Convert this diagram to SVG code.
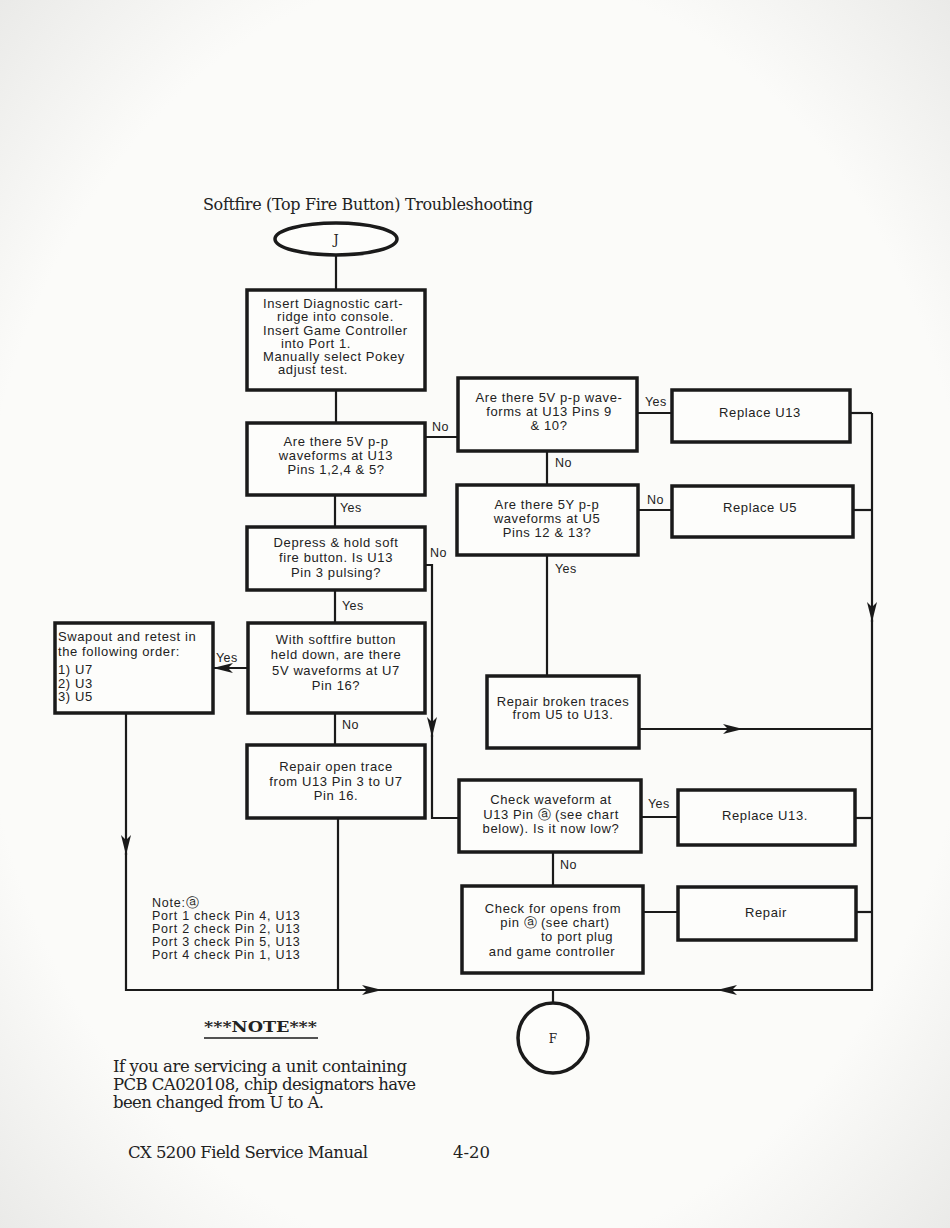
<svg xmlns="http://www.w3.org/2000/svg" width="950" height="1228" viewBox="0 0 950 1228">
<defs>
<radialGradient id="bg" cx="50%" cy="50%" r="75%">
<stop offset="0.7" stop-color="#fbfbf9"/>
<stop offset="1" stop-color="#e6e6e4"/>
</radialGradient>
<marker id="ah" viewBox="0 0 20 10" refX="20" refY="5" markerWidth="20" markerHeight="10" markerUnits="userSpaceOnUse" orient="auto">
<path d="M0,0 L20,5 L0,10 L5,5 Z" fill="#1a1a1a"/>
</marker>
<style>
.box{fill:#fdfdfb;stroke:#1a1a1a;stroke-width:3.5}
.t{font-family:"Liberation Sans","DejaVu Sans",sans-serif;font-size:13px;letter-spacing:0.6px;fill:#222}
.n{font-family:"Liberation Sans","DejaVu Sans",sans-serif;font-size:12.5px;letter-spacing:0.75px;fill:#222}
.c{text-anchor:middle}
.lbl{font-family:"Liberation Sans","DejaVu Sans",sans-serif;font-size:12.5px;letter-spacing:0.4px;fill:#222}
.ln{fill:none;stroke:#1a1a1a;stroke-width:2.2}
.ser{font-family:"DejaVu Serif","Liberation Serif",serif;fill:#222}
.ca{font-family:"DejaVu Sans",sans-serif;letter-spacing:0}
</style>
</defs>
<rect x="0" y="0" width="950" height="1228" fill="url(#bg)"/>

<text class="ser" x="203" y="210" font-size="16" textLength="330" lengthAdjust="spacing">Softfire (Top Fire Button) Troubleshooting</text>

<g id="connectors">
<path class="ln" d="M336,255 V290"/>
<path class="ln" d="M336,390 V423"/>
<path class="ln" d="M425,437 H458"/>
<path class="ln" d="M637,413 H672"/>
<path class="ln" d="M850,413 H872"/>
<path class="ln" d="M547,451 V485"/>
<path class="ln" d="M638,510 H672"/>
<path class="ln" d="M853,510 H872"/>
<path class="ln" d="M547,555 V676"/>
<path class="ln" d="M335,495 V527"/>
<path class="ln" d="M425,565 H432 V737" marker-end="url(#ah)"/>
<path class="ln" d="M432,735 V818 H459"/>
<path class="ln" d="M335,590 V623"/>
<path class="ln" d="M248,668 H213" marker-end="url(#ah)"/>
<path class="ln" d="M335,713 V745"/>
<path class="ln" d="M338,818 V990"/>
<path class="ln" d="M126,713 V855" marker-end="url(#ah)"/>
<path class="ln" d="M126,853 V990 H382" marker-end="url(#ah)"/>
<path class="ln" d="M380,990 H717"/>
<path class="ln" d="M872,413 V622" marker-end="url(#ah)"/>
<path class="ln" d="M872,620 V990 H717" marker-end="url(#ah)"/>
<path class="ln" d="M639,729 H743" marker-end="url(#ah)"/>
<path class="ln" d="M741,729 H872"/>
<path class="ln" d="M641,817 H678"/>
<path class="ln" d="M855,818 H872"/>
<path class="ln" d="M553,852 V886"/>
<path class="ln" d="M643,912 H678"/>
<path class="ln" d="M856,912 H872"/>
<path class="ln" d="M553,990 V1003"/>
<text class="lbl" x="432" y="431">No</text>
<text class="lbl" x="340" y="512">Yes</text>
<text class="lbl" x="555" y="467">No</text>
<text class="lbl" x="430" y="557">No</text>
<text class="lbl" x="555" y="573">Yes</text>
<text class="lbl" x="645" y="406">Yes</text>
<text class="lbl" x="647" y="504">No</text>
<text class="lbl" x="342" y="610">Yes</text>
<text class="lbl" x="216" y="662">Yes</text>
<text class="lbl" x="342" y="729">No</text>
<text class="lbl" x="648" y="808">Yes</text>
<text class="lbl" x="560" y="869">No</text>
</g>

<g id="start">
<ellipse cx="336" cy="239" rx="61" ry="16" fill="#fdfdfb" stroke="#1a1a1a" stroke-width="3.5"/>
<text class="ser c" x="336" y="244" font-size="13">J</text>
</g>

<g id="setup">
<rect class="box" x="247" y="290" width="178" height="100"/>
<text class="t" x="263" y="308">Insert Diagnostic cart-</text>
<text class="t" x="277" y="321">ridge into console.</text>
<text class="t" x="263" y="335">Insert Game Controller</text>
<text class="t" x="281" y="348">into Port 1.</text>
<text class="t" x="263" y="361">Manually select Pokey</text>
<text class="t" x="278" y="374">adjust test.</text>
</g>

<g id="q-u13-pins1245">
<rect class="box" x="247" y="423" width="178" height="72"/>
<text class="t c" x="336" y="446">Are there 5V p-p</text>
<text class="t c" x="336" y="460">waveforms at U13</text>
<text class="t c" x="336" y="474">Pins 1,2,4 &amp; 5?</text>
</g>

<g id="q-u13-pins910">
<rect class="box" x="458" y="378" width="179" height="73"/>
<text class="t c" x="549" y="402">Are there 5V p-p wave-</text>
<text class="t c" x="549" y="416">forms at U13 Pins 9</text>
<text class="t c" x="549" y="430">&amp; 10?</text>
</g>

<g id="replace-u13-a">
<rect class="box" x="672" y="390" width="178" height="52"/>
<text class="t c" x="760" y="417">Replace U13</text>
</g>

<g id="q-u5-pins1213">
<rect class="box" x="457" y="485" width="181" height="70"/>
<text class="t c" x="547" y="509">Are there 5Y p-p</text>
<text class="t c" x="547" y="523">waveforms at U5</text>
<text class="t c" x="547" y="537">Pins 12 &amp; 13?</text>
</g>

<g id="replace-u5">
<rect class="box" x="672" y="486" width="181" height="51"/>
<text class="t c" x="760" y="512">Replace U5</text>
</g>

<g id="q-pin3-pulsing">
<rect class="box" x="247" y="527" width="178" height="63"/>
<text class="t c" x="336" y="547">Depress &amp; hold soft</text>
<text class="t c" x="336" y="562">fire button.  Is U13</text>
<text class="t c" x="336" y="577">Pin 3 pulsing?</text>
</g>

<g id="q-u7-pin16">
<rect class="box" x="248" y="623" width="177" height="90"/>
<text class="t c" x="336" y="644">With softfire button</text>
<text class="t c" x="336" y="659">held down, are there</text>
<text class="t c" x="336" y="675">5V waveforms at U7</text>
<text class="t c" x="336" y="690">Pin 16?</text>
</g>

<g id="swapout">
<rect class="box" x="55" y="623" width="158" height="90"/>
<text class="t" x="58" y="641">Swapout and retest in</text>
<text class="t" x="58" y="656">the following order:</text>
<text class="t" x="58" y="674">1) U7</text>
<text class="t" x="58" y="688">2) U3</text>
<text class="t" x="58" y="701">3) U5</text>
</g>

<g id="repair-open-trace">
<rect class="box" x="247" y="745" width="178" height="73"/>
<text class="t c" x="336" y="771">Repair open trace</text>
<text class="t c" x="336" y="786">from U13 Pin 3 to U7</text>
<text class="t c" x="336" y="800">Pin 16.</text>
</g>

<g id="repair-broken-traces">
<rect class="box" x="487" y="676" width="152" height="72"/>
<text class="t c" x="563" y="706">Repair broken traces</text>
<text class="t c" x="563" y="719">from U5 to U13.</text>
</g>

<g id="check-waveform">
<rect class="box" x="459" y="780" width="182" height="72"/>
<text class="t c" x="551" y="804">Check waveform at</text>
<text class="t c" x="551" y="819">U13 Pin <tspan class="ca">ⓐ</tspan> (see chart</text>
<text class="t c" x="551" y="833">below).  Is it now low?</text>
</g>

<g id="replace-u13-b">
<rect class="box" x="678" y="790" width="177" height="55"/>
<text class="t c" x="765" y="820">Replace U13.</text>
</g>

<g id="check-opens">
<rect class="box" x="462" y="886" width="181" height="87"/>
<text class="t c" x="553" y="913">Check for opens from</text>
<text class="t c" x="555" y="927">pin <tspan class="ca">ⓐ</tspan> (see chart)</text>
<text class="t c" x="577" y="941">to port plug</text>
<text class="t c" x="552" y="956">and game controller</text>
</g>

<g id="repair">
<rect class="box" x="678" y="887" width="178" height="53"/>
<text class="t c" x="766" y="917">Repair</text>
</g>

<g id="end">
<circle cx="553" cy="1038" r="35" fill="#fdfdfb" stroke="#1a1a1a" stroke-width="3.5"/>
<text class="ser c" x="553" y="1043" font-size="12">F</text>
</g>

<g id="pin-note">
<text class="n" x="152" y="907">Note:<tspan class="ca">ⓐ</tspan></text>
<text class="n" x="152" y="920">Port 1 check Pin 4, U13</text>
<text class="n" x="152" y="933">Port 2 check Pin 2, U13</text>
<text class="n" x="152" y="946">Port 3 check Pin 5, U13</text>
<text class="n" x="152" y="959">Port 4 check Pin 1, U13</text>
</g>

<g id="footer">
<text class="ser" x="204" y="1032" font-size="14" font-weight="bold" textLength="113" lengthAdjust="spacingAndGlyphs">***NOTE***</text>
<line x1="204" y1="1038" x2="318" y2="1038" stroke="#1a1a1a" stroke-width="1.5"/>
<text class="ser" x="113" y="1072" font-size="16.5" textLength="294" lengthAdjust="spacing">If you are servicing a unit containing</text>
<text class="ser" x="113" y="1090" font-size="16.5" textLength="303" lengthAdjust="spacing">PCB CA020108, chip designators have</text>
<text class="ser" x="113" y="1108" font-size="16.5" textLength="211" lengthAdjust="spacing">been changed from U to A.</text>
<text class="ser" x="128" y="1158" font-size="16.5" textLength="240" lengthAdjust="spacing">CX 5200 Field Service Manual</text>
<text class="ser" x="453" y="1158" font-size="16.5" textLength="37" lengthAdjust="spacing">4-20</text>
</g>
</svg>
